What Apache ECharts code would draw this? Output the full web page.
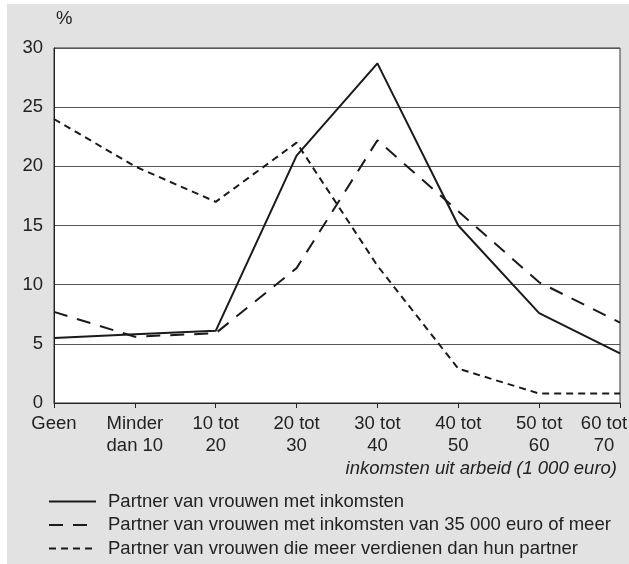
<!DOCTYPE html>
<html>
<head>
<meta charset="utf-8">
<script src="https://cdn.jsdelivr.net/npm/echarts@6/dist/echarts.min.js"></script>
<style>
html,body{margin:0;padding:0;background:#fff;overflow:hidden;}
#c{width:629px;height:564px;}
</style>
</head>
<body>
<div id="c"></div>
<script>
var categories = ['Geen', 'Minder\ndan 10', '10 tot\n20', '20 tot\n30', '30 tot\n40', '40 tot\n50', '50 tot\n60', '60 tot\n70'];
var seriesNames = [
  'Partner van vrouwen met inkomsten',
  'Partner van vrouwen met inkomsten van 35 000 euro of meer',
  'Partner van vrouwen die meer verdienen dan hun partner'
];
var metInkomsten = [5.5, 5.8, 6.1, 20.9, 28.7, 15.0, 7.6, 4.2];
var meer35000 = [7.7, 5.6, 5.9, 11.4, 22.2, 16.2, 10.2, 6.8];
var meerVerdienen = [24.0, 20.0, 17.0, 22.0, 11.6, 2.9, 0.8, 0.8];
var yTicks = [0, 5, 10, 15, 20, 25, 30];
var xAxisTitle = 'inkomsten uit arbeid (1 000 euro)';
var yAxisTitle = '%';

var FONT = '"Liberation Sans", Arial, sans-serif';
var FS = 18.5;

// last category label is nudged left so it stays inside the picture, as in the reference
var categoryData = categories.map(function (c, i) {
  if (i === categories.length - 1) {
    return {value: c, textStyle: {padding: [0, 32, 0, 0]}};
  }
  return c;
});

var chart = echarts.init(document.getElementById('c'), null, {renderer: 'canvas'});
chart.setOption({
  backgroundColor: '#fff',
  animation: false,
  textStyle: {fontFamily: FONT},
  graphic: [
    {type: 'rect', z: -10, silent: true, shape: {x: 7, y: 4, width: 622, height: 560}, style: {fill: '#e2e2e2'}},
    {type: 'text', right: 12, top: 459, style: {text: xAxisTitle, font: 'italic ' + FS + 'px ' + FONT, fill: '#222', textAlign: 'right'}}
  ],
  grid: {left: 54, right: 9, top: 48, bottom: 161, show: true, backgroundColor: '#fff', borderColor: '#333', borderWidth: 1, outerBoundsMode: 'none', containLabel: false},
  legend: {
    orient: 'vertical', left: 48, top: 492, padding: 0,
    itemWidth: 47, itemHeight: 16, itemGap: 4.5,
    itemStyle: {opacity: 0},
    textStyle: {fontSize: FS, lineHeight: 19, color: '#222', fontFamily: FONT, padding: [0, 0, 0, 7]},
    data: seriesNames
  },
  xAxis: {
    type: 'category', data: categoryData, boundaryGap: false,
    axisLine: {lineStyle: {color: '#222', width: 1}},
    axisTick: {show: true, length: 5, lineStyle: {color: '#222'}, alignWithLabel: true},
    axisLabel: {interval: 0, fontSize: FS, color: '#222', lineHeight: 22, margin: 10, fontFamily: FONT, hideOverlap: false},
    splitLine: {show: false}
  },
  yAxis: {
    type: 'value', min: yTicks[0], max: yTicks[yTicks.length - 1], interval: 5,
    name: yAxisTitle, nameLocation: 'end', nameGap: 20,
    nameTextStyle: {fontSize: FS, color: '#222', align: 'left', padding: [0, 0, 0, 2], fontFamily: FONT},
    axisLine: {show: true, lineStyle: {color: '#222'}},
    axisTick: {show: false},
    axisLabel: {fontSize: FS, color: '#222', margin: 11, fontFamily: FONT},
    splitLine: {show: true, lineStyle: {color: '#555', width: 1}}
  },
  series: [
    {name: seriesNames[0], type: 'line', data: metInkomsten, symbol: 'none', lineStyle: {color: '#1a1a1a', width: 2, type: 'solid'}, itemStyle: {color: '#1a1a1a'}},
    {name: seriesNames[1], type: 'line', data: meer35000, symbol: 'none', lineStyle: {color: '#1a1a1a', width: 2, type: [14, 10]}, itemStyle: {color: '#1a1a1a'}},
    {name: seriesNames[2], type: 'line', data: meerVerdienen, symbol: 'none', lineStyle: {color: '#1a1a1a', width: 2, type: [7, 5]}, itemStyle: {color: '#1a1a1a'}}
  ]
});
</script>
</body>
</html>
